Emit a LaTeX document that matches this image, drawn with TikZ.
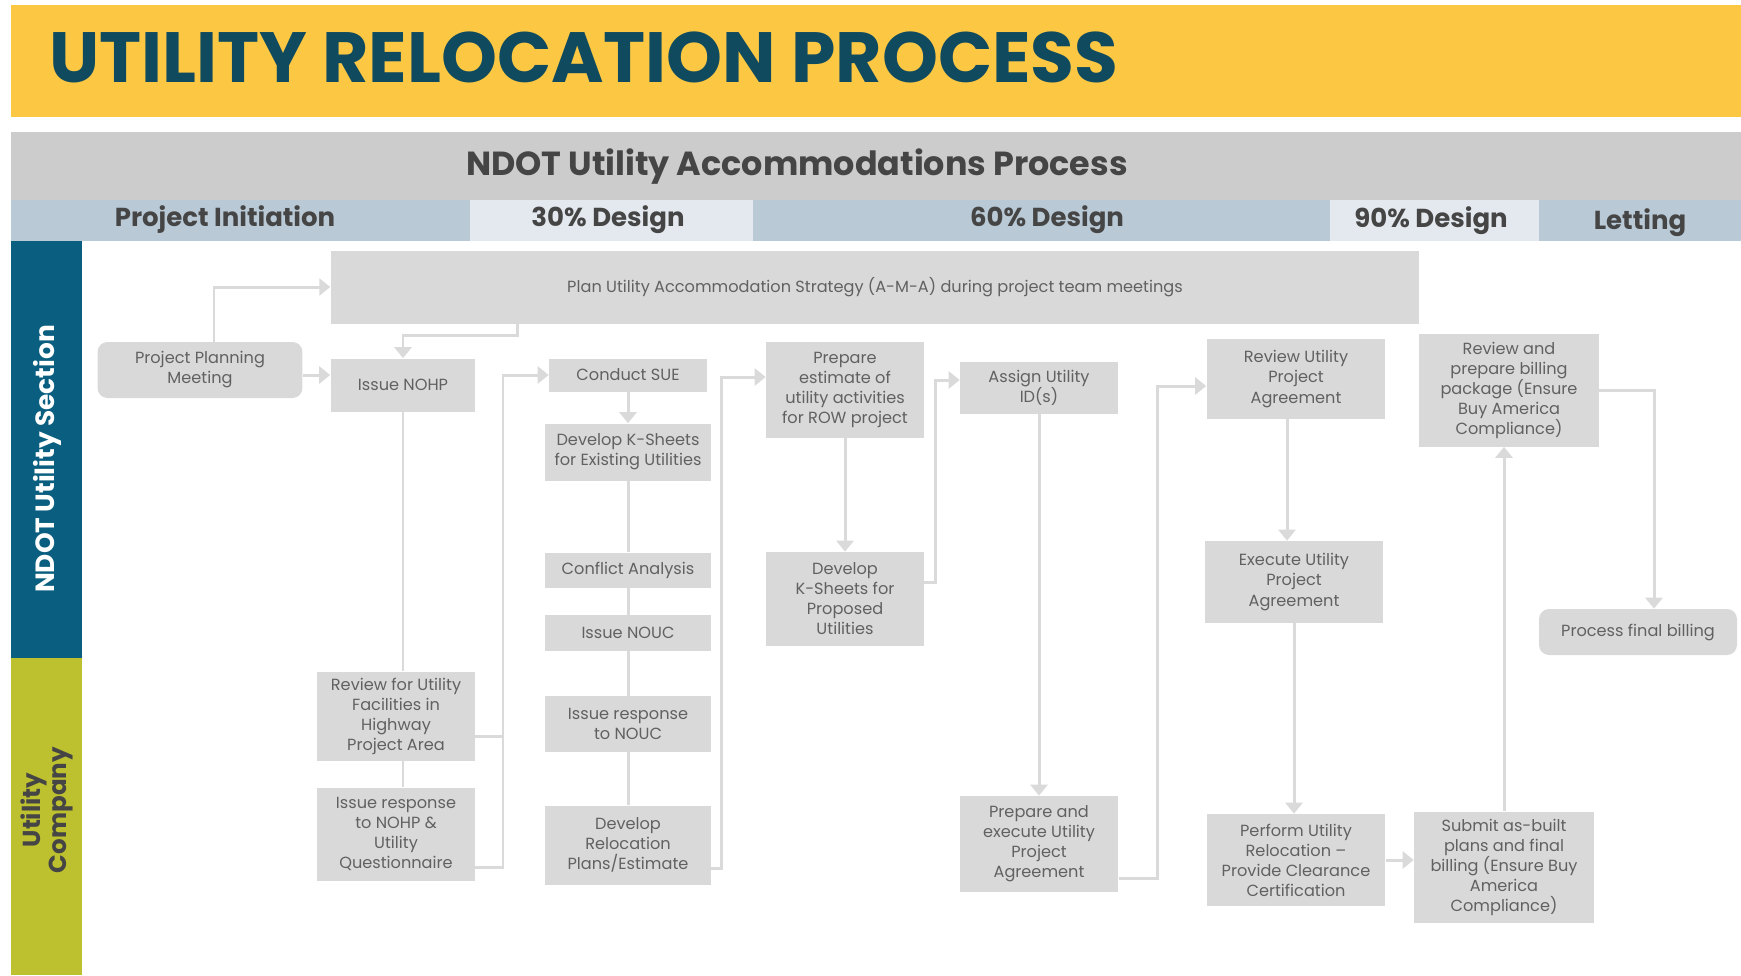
\documentclass[tikz,border=0pt]{standalone}
\usepackage{fontspec}
\setmainfont{Poppins}
\usetikzlibrary{arrows.meta, positioning}
\definecolor{bandyellow}{HTML}{FCC844}
\definecolor{titleteal}{HTML}{0F4A5F}
\definecolor{headgray}{HTML}{CCCCCC}
\definecolor{headtext}{HTML}{454545}
\definecolor{phasedark}{HTML}{B9C9D6}
\definecolor{phaselight}{HTML}{E3E9EE}
\definecolor{laneteal}{HTML}{0A5F80}
\definecolor{laneolive}{HTML}{BDC02F}
\definecolor{boxgray}{HTML}{D9D9D9}
\definecolor{boxtext}{HTML}{616161}
\definecolor{linegray}{HTML}{DADADA}

\begin{document}
\begin{tikzpicture}[x=0.02cm,y=-0.02cm,
    box/.style={rectangle,fill=boxgray,text=boxtext,align=center,inner sep=1pt,font=\fontsize{9.2}{11.4}\selectfont},
    rbox/.style={box,rounded corners=0.2cm},
    phase/.style={text=headtext,font=\bfseries\fontsize{14.8}{15}\selectfont},
    edge/.style={draw=linegray,line width=1.7pt},
    flow/.style={edge,-{Triangle[width=0.34cm,length=0.22cm]}}]
    \useasboundingbox (0,0) rectangle (1741,975);

    \fill[bandyellow] (11,5) rectangle (1741,117);
    \fill[headgray] (11,132) rectangle (1741,200);
    \fill[phasedark] (11,200) rectangle (470,241);
    \fill[phaselight] (470,200) rectangle (753,241);
    \fill[phasedark] (753,200) rectangle (1330,241);
    \fill[phaselight] (1330,200) rectangle (1539,241);
    \fill[phasedark] (1539,200) rectangle (1741,241);
    \fill[laneteal] (11,241) rectangle (82,658);
    \fill[laneolive] (11,658) rectangle (82,975);

    \node[anchor=west,inner sep=0,text=titleteal,font=\bfseries\fontsize{40.5}{40.5}\selectfont] (title) at (49,57) {UTILITY RELOCATION PROCESS};
    \node[text=headtext,font=\bfseries\fontsize{19}{19}\selectfont] (ndotproc) at (797,167) {NDOT Utility Accommodations Process};
    \node[phase] (pinit) at (225,220) {Project Initiation};
    \node[phase] (p30) at (608,220) {30\% Design};
    \node[phase] (p60) at (1047,220) {60\% Design};
    \node[phase] (p90) at (1431,221) {90\% Design};
    \node[phase] (plet) at (1640,223) {Letting};
    \node[rotate=90,text=white,font=\bfseries\fontsize{15}{15}\selectfont] (ndot) at (47,459) {NDOT Utility Section};
    \node[rotate=90,align=center,text=headtext,font=\bfseries\fontsize{14}{15}\selectfont] (ucomp) at (47,810) {Utility\\Company};

    \node[box,minimum width=21.78cm,minimum height=1.46cm] (strat) at (875,287) {Plan Utility Accommodation Strategy (A-M-A) during project team meetings};
    \node[rbox,minimum width=4.1cm,minimum height=1.12cm] (ppm) at (200,370) {Project Planning\\Meeting};
    \node[box,minimum width=2.9cm,minimum height=1.06cm] (nohp) at (403,385) {Issue NOHP};
    \node[box,minimum width=3.16cm,minimum height=1.78cm] (rev) at (396,716) {Review for Utility\\Facilities in\\Highway\\Project Area};
    \node[box,minimum width=3.16cm,minimum height=1.86cm] (resp) at (396,834) {Issue response\\to NOHP \&\\Utility\\Questionnaire};
    \node[box,minimum width=3.16cm,minimum height=0.66cm] (sue) at (628,375) {Conduct SUE};
    \node[box,minimum width=3.32cm,minimum height=1.14cm] (kex) at (628,452) {Develop K-Sheets\\for Existing Utilities};
    \node[box,minimum width=3.32cm,minimum height=0.7cm] (conf) at (628,570) {Conflict Analysis};
    \node[box,minimum width=3.32cm,minimum height=0.72cm] (nouc) at (628,633) {Issue NOUC};
    \node[box,minimum width=3.32cm,minimum height=1.12cm] (rnouc) at (628,724) {Issue response\\to NOUC};
    \node[box,minimum width=3.32cm,minimum height=1.58cm] (reloc) at (628,845) {Develop\\Relocation\\Plans/Estimate};
    \node[box,minimum width=3.16cm,minimum height=1.92cm] (est) at (845,390) {Prepare\\estimate of\\utility activities\\for ROW project};
    \node[box,minimum width=3.16cm,minimum height=1.88cm] (kprop) at (845,599) {Develop\\K-Sheets for\\Proposed\\Utilities};
    \node[box,minimum width=3.16cm,minimum height=1.04cm] (uid) at (1039,388) {Assign Utility\\ID(s)};
    \node[box,minimum width=3.18cm,minimum height=1.92cm] (upa) at (1039,844) {Prepare and\\execute Utility\\Project\\Agreement};
    \node[box,minimum width=3.58cm,minimum height=1.6cm] (rupa) at (1296,379) {Review Utility\\Project\\Agreement};
    \node[box,minimum width=3.58cm,minimum height=1.64cm] (eupa) at (1294,582) {Execute Utility\\Project\\Agreement};
    \node[box,minimum width=3.58cm,minimum height=1.84cm] (perf) at (1296,860) {Perform Utility\\Relocation –\\Provide Clearance\\Certification};
    \node[box,minimum width=3.6cm,minimum height=2.26cm] (bill) at (1509,390) {Review and\\prepare billing\\package (Ensure\\Buy America\\Compliance)};
    \node[box,minimum width=3.6cm,minimum height=2.22cm] (sub) at (1504,867) {Submit as-built\\plans and final\\billing (Ensure Buy\\America\\Compliance)};
    \node[rbox,minimum width=3.96cm,minimum height=0.92cm] (fin) at (1638,632) {Process final billing};

    \coordinate (j1) at (503,375);
    \coordinate (j2) at (721,377);
    \coordinate (j3) at (935,380);
    \coordinate (j4) at (1157,386);

    \draw[flow] ([xshift=0.28cm]ppm.north) |- (strat.west);
    \draw[flow] ([xshift=-7.16cm]strat.south) -- ++(0,12) -| (nohp.north);
    \draw[flow] ([yshift=-0.1cm]ppm.east) -- ([yshift=-0.1cm]ppm.east -| nohp.west);
    \draw[edge] (nohp.south) -- (nohp.south |- rev.north);
    \draw[edge] (nohp.south |- rev.south) -- (nohp.south |- resp.north);
    \draw[edge] ([yshift=-0.4cm]rev.east) -- ([yshift=-0.4cm]rev.east -| j1);
    \draw[flow] ([yshift=-0.66cm]resp.east) -| (j1) -- (sue.west);
    \draw[flow] (sue) -- (kex);
    \draw[edge] (kex) -- (conf);
    \draw[edge] (conf) -- (nouc);
    \draw[edge] (nouc) -- (rnouc);
    \draw[edge] (rnouc) -- (reloc);
    \draw[flow] ([yshift=-0.46cm]reloc.east) -| (j2) -- (j2 -| est.west);
    \draw[flow] (est) -- (kprop);
    \draw[flow] ([yshift=0.34cm]kprop.east) -| (j3) -- (j3 -| uid.west);
    \draw[flow] (uid) -- (upa);
    \draw[flow] ([yshift=-0.68cm]upa.east) -| (j4) -- (j4 -| rupa.west);
    \draw[flow] ([xshift=-0.18cm]rupa.south) -- ([xshift=-0.18cm]rupa.south |- eupa.north);
    \draw[flow] (eupa.south) -- (eupa.south |- perf.north);
    \draw[flow] (perf.east) -- (perf.east -| sub.west);
    \draw[flow] (sub.north) -- (sub.north |- bill.south);
    \draw[flow] (bill.east) -| ([xshift=0.32cm]fin.north);
  \end{tikzpicture}
\end{document}
